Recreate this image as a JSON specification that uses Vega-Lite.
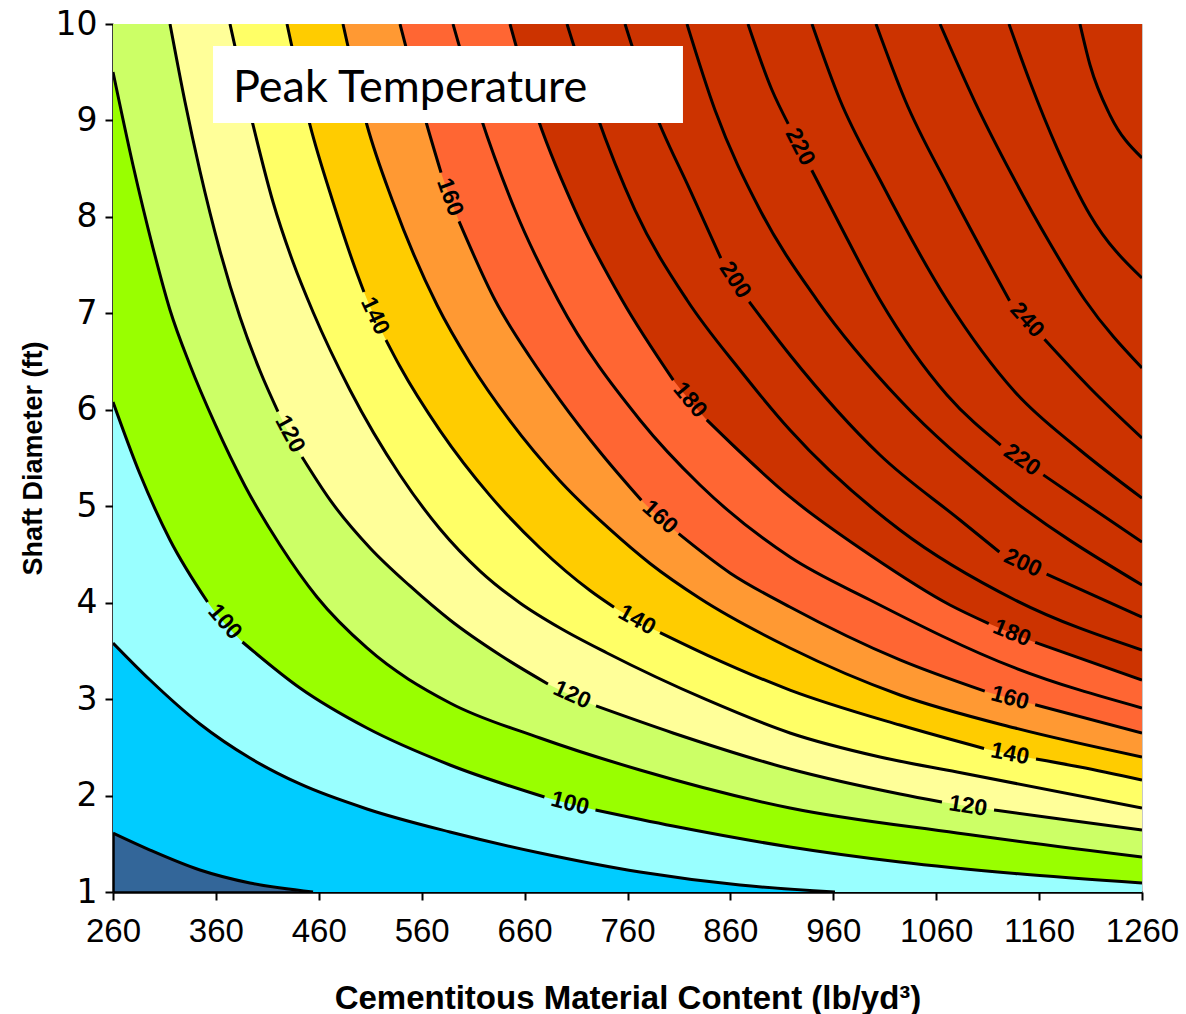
{
  "$schema": "https://vega.github.io/schema/vega-lite/v6.json",
  "autosize": "none",
  "width": 1029,
  "height": 868,
  "padding": {"left": 113, "top": 24, "right": 44, "bottom": 122},
  "background": "white",
  "config": {
    "view": {"fill": "#336699", "stroke": "#c8c8c8", "strokeWidth": 1},
    "font": "Liberation Sans"
  },
  "datasets": {
    "contours": [
      {"t":80,"s":0,"x":260,"y":1.611},{"t":80,"s":0,"x":296.0,"y":1.435},{"t":80,"s":0,"x":344.5,"y":1.228},{"t":80,"s":0,"x":393.1,"y":1.093},{"t":80,"s":0,"x":454.4,"y":1.0},{"t":80,"s":0,"x":1260,"y":1.0,"e":1},
      {"t":90,"s":0,"x":260,"y":3.582},{"t":90,"s":0,"x":296.0,"y":3.198},{"t":90,"s":0,"x":344.5,"y":2.742},{"t":90,"s":0,"x":393.1,"y":2.389},{"t":90,"s":0,"x":441.7,"y":2.120},{"t":90,"s":0,"x":506.8,"y":1.861},{"t":90,"s":0,"x":587.5,"y":1.622},{"t":90,"s":0,"x":675.0,"y":1.404},{"t":90,"s":0,"x":772.1,"y":1.207},{"t":90,"s":0,"x":869.3,"y":1.072},{"t":90,"s":0,"x":961.6,"y":1.0},{"t":90,"s":0,"x":1260,"y":1.0,"e":1},
      {"t":100,"s":0,"x":260,"y":6.081},{"t":100,"s":0,"x":286.2,"y":5.334},{"t":100,"s":0,"x":315.4,"y":4.650},{"t":100,"s":0,"x":351.9,"y":4.007},
      {"t":100,"s":1,"x":385.8,"y":3.592},{"t":100,"s":1,"x":441.7,"y":3.115},{"t":100,"s":1,"x":506.8,"y":2.700},{"t":100,"s":1,"x":587.5,"y":2.317},{"t":100,"s":1,"x":679.3,"y":1.985},
      {"t":100,"s":2,"x":728.9,"y":1.850},{"t":100,"s":2,"x":804.2,"y":1.684},{"t":100,"s":2,"x":917.9,"y":1.467},{"t":100,"s":2,"x":1024.8,"y":1.311},{"t":100,"s":2,"x":1136.6,"y":1.192},{"t":100,"s":2,"x":1260,"y":1.093},
      {"t":110,"s":0,"x":260,"y":9.502},{"t":110,"s":0,"x":279.4,"y":8.538},{"t":110,"s":0,"x":298.9,"y":7.677},{"t":110,"s":0,"x":315.4,"y":7.035},{"t":110,"s":0,"x":334.8,"y":6.464},{"t":110,"s":0,"x":359.1,"y":5.853},{"t":110,"s":0,"x":388.3,"y":5.210},{"t":110,"s":0,"x":422.3,"y":4.598},{"t":110,"s":0,"x":458.2,"y":4.059},{"t":110,"s":0,"x":506.8,"y":3.530},{"t":110,"s":0,"x":587.5,"y":2.960},{"t":110,"s":0,"x":675.0,"y":2.597},{"t":110,"s":0,"x":772.1,"y":2.265},{"t":110,"s":0,"x":917.9,"y":1.871},{"t":110,"s":0,"x":1080.2,"y":1.612},{"t":110,"s":0,"x":1260,"y":1.363},
      {"t":120,"s":0,"x":315.4,"y":10},{"t":120,"s":0,"x":330.0,"y":9.191},{"t":120,"s":0,"x":344.5,"y":8.476},{"t":120,"s":0,"x":364.0,"y":7.646},{"t":120,"s":0,"x":383.4,"y":6.962},{"t":120,"s":0,"x":402.9,"y":6.402},{"t":120,"s":0,"x":420.3,"y":5.982},
      {"t":120,"s":1,"x":443.7,"y":5.510},{"t":120,"s":1,"x":470.9,"y":5.065},{"t":120,"s":1,"x":509.8,"y":4.567},{"t":120,"s":1,"x":548.6,"y":4.173},{"t":120,"s":1,"x":587.5,"y":3.820},{"t":120,"s":1,"x":636.1,"y":3.457},{"t":120,"s":1,"x":682.7,"y":3.157},
      {"t":120,"s":2,"x":729.4,"y":2.929},{"t":120,"s":2,"x":804.2,"y":2.649},{"t":120,"s":2,"x":917.9,"y":2.275},{"t":120,"s":2,"x":1024.8,"y":2.016},{"t":120,"s":2,"x":1065.6,"y":1.933},
      {"t":120,"s":3,"x":1116.2,"y":1.850},{"t":120,"s":3,"x":1180.3,"y":1.757},{"t":120,"s":3,"x":1260,"y":1.643},
      {"t":130,"s":0,"x":373.7,"y":10},{"t":130,"s":0,"x":396.1,"y":8.953},{"t":130,"s":0,"x":415.5,"y":8.154},{"t":130,"s":0,"x":434.9,"y":7.532},{"t":130,"s":0,"x":454.4,"y":7.014},{"t":130,"s":0,"x":490.3,"y":6.205},{"t":130,"s":0,"x":538.9,"y":5.324},{"t":130,"s":0,"x":577.8,"y":4.764},{"t":130,"s":0,"x":616.7,"y":4.328},{"t":130,"s":0,"x":655.5,"y":3.997},{"t":130,"s":0,"x":694.4,"y":3.737},{"t":130,"s":0,"x":740.1,"y":3.478},{"t":130,"s":0,"x":837.3,"y":2.991},{"t":130,"s":0,"x":917.9,"y":2.649},{"t":130,"s":0,"x":1005.4,"y":2.400},{"t":130,"s":0,"x":1080.2,"y":2.244},{"t":130,"s":0,"x":1260,"y":1.871},
      {"t":140,"s":0,"x":429.1,"y":10},{"t":140,"s":0,"x":451.4,"y":8.953},{"t":140,"s":0,"x":473.8,"y":8.154},{"t":140,"s":0,"x":495.2,"y":7.470},{"t":140,"s":0,"x":503.9,"y":7.221},
      {"t":140,"s":1,"x":525.3,"y":6.723},{"t":140,"s":1,"x":538.9,"y":6.448},{"t":140,"s":1,"x":577.8,"y":5.784},{"t":140,"s":1,"x":626.4,"y":5.110},{"t":140,"s":1,"x":675.0,"y":4.567},{"t":140,"s":1,"x":723.6,"y":4.126},{"t":140,"s":1,"x":746.9,"y":3.952},
      {"t":140,"s":2,"x":791.6,"y":3.690},{"t":140,"s":2,"x":837.3,"y":3.457},{"t":140,"s":2,"x":917.9,"y":3.094},{"t":140,"s":2,"x":1024.8,"y":2.731},{"t":140,"s":2,"x":1106.5,"y":2.488},
      {"t":140,"s":3,"x":1157.0,"y":2.379},{"t":140,"s":3,"x":1199.7,"y":2.296},{"t":140,"s":3,"x":1260,"y":2.161},
      {"t":150,"s":0,"x":483.5,"y":10},{"t":150,"s":0,"x":506.8,"y":8.953},{"t":150,"s":0,"x":532.1,"y":8.154},{"t":150,"s":0,"x":574.9,"y":7.086},{"t":150,"s":0,"x":606.9,"y":6.485},{"t":150,"s":0,"x":645.8,"y":5.884},{"t":150,"s":0,"x":694.4,"y":5.261},{"t":150,"s":0,"x":743.0,"y":4.759},{"t":150,"s":0,"x":781.9,"y":4.406},{"t":150,"s":0,"x":830.5,"y":4.043},{"t":150,"s":0,"x":917.9,"y":3.530},{"t":150,"s":0,"x":1024.8,"y":3.043},{"t":150,"s":0,"x":1136.6,"y":2.700},{"t":150,"s":0,"x":1260,"y":2.400},
      {"t":160,"s":0,"x":538.9,"y":10},{"t":160,"s":0,"x":565.1,"y":8.953},{"t":160,"s":0,"x":578.8,"y":8.459},
      {"t":160,"s":1,"x":596.3,"y":7.953},{"t":160,"s":1,"x":631.2,"y":7.138},{"t":160,"s":1,"x":665.2,"y":6.547},{"t":160,"s":1,"x":694.4,"y":6.101},{"t":160,"s":1,"x":733.3,"y":5.562},{"t":160,"s":1,"x":773.5,"y":5.061},
      {"t":160,"s":2,"x":809.7,"y":4.715},{"t":160,"s":2,"x":859.6,"y":4.308},{"t":160,"s":2,"x":917.9,"y":3.955},{"t":160,"s":2,"x":1024.8,"y":3.406},{"t":160,"s":2,"x":1107.2,"y":3.082},
      {"t":160,"s":3,"x":1156.2,"y":2.941},{"t":160,"s":3,"x":1260,"y":2.649},
      {"t":170,"s":0,"x":590.4,"y":10},{"t":170,"s":0,"x":616.7,"y":9.056},{"t":170,"s":0,"x":650.7,"y":8.071},{"t":170,"s":0,"x":692.5,"y":7.138},{"t":170,"s":0,"x":772.1,"y":5.894},{"t":170,"s":0,"x":830.5,"y":5.220},{"t":170,"s":0,"x":917.9,"y":4.473},{"t":170,"s":0,"x":995.7,"y":4.028},{"t":170,"s":0,"x":1136.6,"y":3.323},{"t":170,"s":0,"x":1260,"y":2.908},
      {"t":180,"s":0,"x":645.8,"y":10},{"t":180,"s":0,"x":670.1,"y":9.108},{"t":180,"s":0,"x":709.0,"y":8.071},{"t":180,"s":0,"x":754.7,"y":7.138},{"t":180,"s":0,"x":804.5,"y":6.308},
      {"t":180,"s":1,"x":837.0,"y":5.895},{"t":180,"s":1,"x":917.9,"y":5.096},{"t":180,"s":1,"x":995.7,"y":4.494},{"t":180,"s":1,"x":1073.4,"y":3.976},{"t":180,"s":1,"x":1111.1,"y":3.783},
      {"t":180,"s":2,"x":1156.2,"y":3.588},{"t":180,"s":2,"x":1260,"y":3.198},
      {"t":190,"s":0,"x":701.2,"y":10},{"t":190,"s":0,"x":728.4,"y":9.108},{"t":190,"s":0,"x":767.3,"y":8.071},{"t":190,"s":0,"x":817.8,"y":7.138},{"t":190,"s":0,"x":869.3,"y":6.412},{"t":190,"s":0,"x":917.9,"y":5.790},{"t":190,"s":0,"x":1024.8,"y":4.753},{"t":190,"s":0,"x":1136.6,"y":4.028},{"t":190,"s":0,"x":1260,"y":3.509},
      {"t":200,"s":0,"x":757.6,"y":10},{"t":200,"s":0,"x":783.8,"y":9.160},{"t":200,"s":0,"x":820.7,"y":8.279},{"t":200,"s":0,"x":850.7,"y":7.572},
      {"t":200,"s":1,"x":878.3,"y":7.120},{"t":200,"s":1,"x":917.9,"y":6.568},{"t":200,"s":1,"x":1005.4,"y":5.531},{"t":200,"s":1,"x":1083.1,"y":4.857},{"t":200,"s":1,"x":1121.4,"y":4.525},
      {"t":200,"s":2,"x":1167.3,"y":4.297},{"t":200,"s":2,"x":1260,"y":3.851},
      {"t":210,"s":0,"x":817.8,"y":10},{"t":210,"s":0,"x":845.0,"y":9.108},{"t":210,"s":0,"x":888.8,"y":8.071},{"t":210,"s":0,"x":944.2,"y":7.138},{"t":210,"s":0,"x":1024.8,"y":6.101},{"t":210,"s":0,"x":1122.0,"y":5.168},{"t":210,"s":0,"x":1260,"y":4.183},
      {"t":220,"s":0,"x":877.1,"y":10},{"t":220,"s":0,"x":900.4,"y":9.316},{"t":220,"s":0,"x":916.2,"y":8.965},
      {"t":220,"s":1,"x":939.1,"y":8.484},{"t":220,"s":1,"x":966.5,"y":7.916},{"t":220,"s":1,"x":1005.4,"y":7.138},{"t":220,"s":1,"x":1070.5,"y":6.153},{"t":220,"s":1,"x":1122.7,"y":5.634},
      {"t":220,"s":2,"x":1164.1,"y":5.325},{"t":220,"s":2,"x":1199.7,"y":5.065},{"t":220,"s":2,"x":1260,"y":4.629},
      {"t":230,"s":0,"x":939.3,"y":10},{"t":230,"s":0,"x":966.5,"y":9.212},{"t":230,"s":0,"x":1005.4,"y":8.382},{"t":230,"s":0,"x":1070.5,"y":7.138},{"t":230,"s":0,"x":1136.6,"y":6.184},{"t":230,"s":0,"x":1199.7,"y":5.583},{"t":230,"s":0,"x":1260,"y":5.085},
      {"t":240,"s":0,"x":1001.5,"y":10},{"t":240,"s":0,"x":1029.7,"y":9.212},{"t":240,"s":0,"x":1073.4,"y":8.279},{"t":240,"s":0,"x":1131.3,"y":7.131},
      {"t":240,"s":1,"x":1165.2,"y":6.731},{"t":240,"s":1,"x":1209.5,"y":6.226},{"t":240,"s":1,"x":1260,"y":5.707},
      {"t":250,"s":0,"x":1063.7,"y":10},{"t":250,"s":0,"x":1097.7,"y":9.191},{"t":250,"s":0,"x":1133.7,"y":8.434},{"t":250,"s":0,"x":1168.7,"y":7.760},{"t":250,"s":0,"x":1204.6,"y":7.138},{"t":250,"s":0,"x":1260,"y":6.433},
      {"t":260,"s":0,"x":1130.7,"y":10},{"t":260,"s":0,"x":1151.2,"y":9.399},{"t":260,"s":0,"x":1177.4,"y":8.714},{"t":260,"s":0,"x":1209.5,"y":8.020},{"t":260,"s":0,"x":1260,"y":7.366},
      {"t":270,"s":0,"x":1199.7,"y":10},{"t":270,"s":0,"x":1209.5,"y":9.575},{"t":270,"s":0,"x":1228.9,"y":9.056},{"t":270,"s":0,"x":1260,"y":8.611}
    ],
    "labels": [
      {"t":100,"x":368.8,"y":3.800,"a":49},
      {"t":120,"x":432.0,"y":5.749,"a":62},
      {"t":140,"x":514.6,"y":6.972,"a":65},
      {"t":160,"x":587.5,"y":8.206,"a":70},
      {"t":220,"x":927.6,"y":8.725,"a":63},
      {"t":200,"x":864.5,"y":7.346,"a":57},
      {"t":180,"x":820.7,"y":6.101,"a":50},
      {"t":160,"x":791.6,"y":4.888,"a":42},
      {"t":140,"x":769.2,"y":3.820,"a":29},
      {"t":120,"x":706.1,"y":3.043,"a":24},
      {"t":100,"x":704.1,"y":1.918,"a":14},
      {"t":240,"x":1148.2,"y":6.931,"a":48},
      {"t":220,"x":1143.4,"y":5.479,"a":35},
      {"t":200,"x":1144.3,"y":4.411,"a":25},
      {"t":180,"x":1133.7,"y":3.685,"a":22},
      {"t":160,"x":1131.7,"y":3.011,"a":15},
      {"t":140,"x":1131.7,"y":2.433,"a":11},
      {"t":120,"x":1090.9,"y":1.892,"a":9}
    ]
  },
  "layer": [
    {
      "data": {"name": "contours"},
      "transform": [{"filter": {"field": "t", "oneOf": [80, 90, 100, 110, 120, 130, 140, 150, 160, 180]}}],
      "mark": {"type": "area", "interpolate": "monotone", "clip": true},
      "encoding": {
        "x": {
          "field": "x", "type": "quantitative",
          "scale": {"domain": [260, 1260], "nice": false, "zero": false},
          "axis": {
            "values": [260, 360, 460, 560, 660, 760, 860, 960, 1060, 1160, 1260],
            "format": "d",
            "title": "Cementitous Material Content (lb/yd³)",
            "titleFont": "Liberation Sans", "titleFontSize": 33, "titleFontWeight": "bold", "titleColor": "#000",
            "titleBaseline": "alphabetic", "titleY": 116,
            "labelFont": "Liberation Sans", "labelFontSize": 33, "labelColor": "#000", "labelPadding": 15,
            "labelFlush": false, "labelOverlap": false,
            "tickSize": 8, "tickWidth": 2, "tickColor": "#000",
            "domainColor": "#000", "domainWidth": 2.5, "grid": false
          }
        },
        "y": {
          "field": "y", "type": "quantitative", "stack": null,
          "scale": {"domain": [1, 10], "nice": false, "zero": false},
          "axis": {
            "values": [1, 2, 3, 4, 5, 6, 7, 8, 9, 10],
            "format": "d",
            "title": "Shaft Diameter (ft)",
            "titleFont": "Liberation Sans", "titleFontSize": 27, "titleFontWeight": "bold", "titleColor": "#000",
            "titleAngle": -90, "titleBaseline": "alphabetic", "titleX": -72,
            "labelFont": "DejaVu Sans", "labelFontSize": 33, "labelColor": "#000", "labelPadding": 8,
            "labelFlush": false, "labelOverlap": false,
            "tickSize": 8, "tickWidth": 2, "tickColor": "#000",
            "domainColor": "#000", "domainWidth": 2.5, "grid": false
          }
        },
        "y2": {"datum": 10},
        "color": {
          "field": "t", "type": "ordinal", "legend": null,
          "scale": {
            "domain": [80, 90, 100, 110, 120, 130, 140, 150, 160, 180],
            "range": ["#00CCFF", "#99FFFF", "#99FF00", "#CCFF66", "#FFFF99", "#FFFF66", "#FFCC00", "#FF9933", "#FF6633", "#CC3300"]
          }
        }
      }
    },
    {
      "data": {"name": "contours"},
      "transform": [{"filter": "datum.e !== 1"}],
      "mark": {"type": "line", "interpolate": "monotone", "clip": true, "color": "#000", "strokeWidth": 3},
      "encoding": {
        "x": {"field": "x", "type": "quantitative"},
        "y": {"field": "y", "type": "quantitative"},
        "detail": [{"field": "t", "type": "nominal"}, {"field": "s", "type": "nominal"}]
      }
    },
    {
      "data": {"name": "labels"},
      "mark": {"type": "text", "font": "Liberation Sans", "fontSize": 23, "fontWeight": "bold", "color": "#000", "align": "center", "baseline": "middle"},
      "encoding": {
        "x": {"field": "x", "type": "quantitative"},
        "y": {"field": "y", "type": "quantitative"},
        "text": {"field": "t", "type": "nominal"},
        "angle": {"field": "a", "type": "quantitative", "scale": null}
      }
    },
    {
      "data": {"values": [{"box": "title"}]},
      "mark": {"type": "rect", "color": "white"},
      "encoding": {
        "x": {"datum": 357.2, "type": "quantitative"},
        "x2": {"datum": 813.9},
        "y": {"datum": 9.772, "type": "quantitative"},
        "y2": {"datum": 8.973}
      }
    },
    {
      "data": {"values": [{"label": "Peak Temperature"}]},
      "mark": {"type": "text", "font": "Lato", "fontSize": 45, "color": "#000", "align": "left", "baseline": "alphabetic"},
      "encoding": {
        "x": {"datum": 376.6, "type": "quantitative"},
        "y": {"datum": 9.191, "type": "quantitative"},
        "text": {"field": "label", "type": "nominal"}
      }
    }
  ]
}
